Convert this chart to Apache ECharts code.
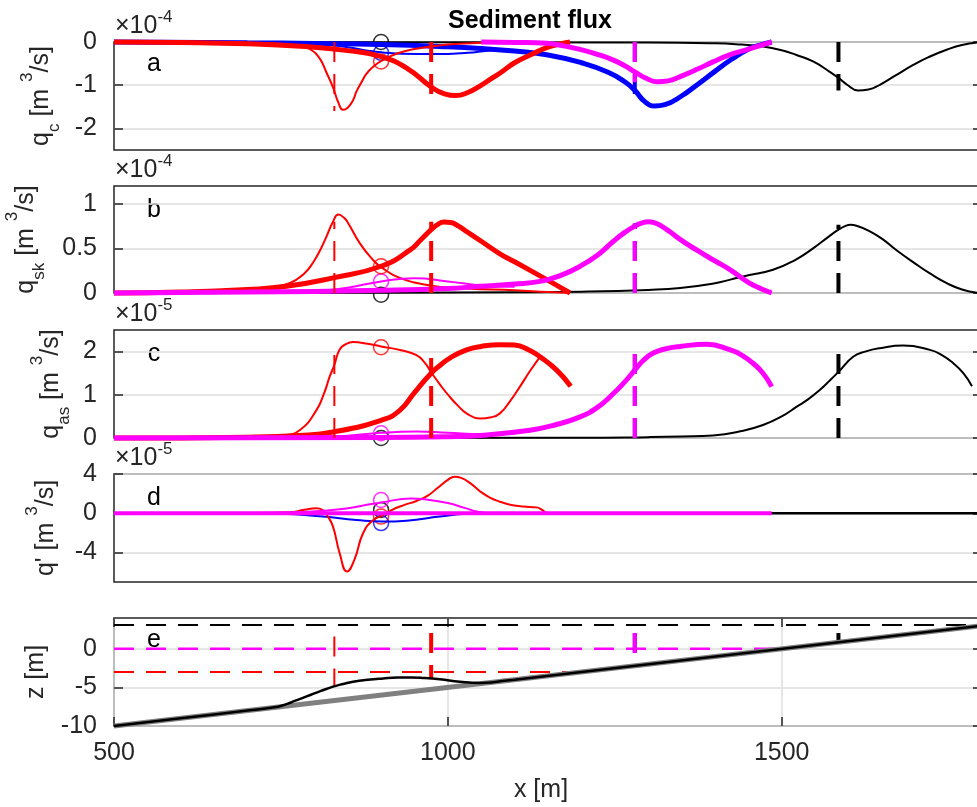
<!DOCTYPE html>
<html>
<head>
<meta charset="utf-8">
<script src="https://cdn.jsdelivr.net/npm/echarts@6.0.0/dist/echarts.min.js"></script>
<style>
  html, body { margin: 0; padding: 0; background: #fff; }
  #main { width: 977px; height: 807px; }
</style>
</head>
<body>
<div id="main"></div>
<script type="text/javascript">

// ---- data (x [m], value) ----
// panel a: q_c (x1e-4)
var qcBlack = [[500,0],[1300,-0.01],[1400,-0.03],[1440,-0.06],[1470,-0.1],[1500,-0.19],[1522,-0.3],[1547,-0.45],[1572,-0.69],[1585,-0.83],[1598,-0.99],[1614,-1.12],[1630,-1.1],[1647,-0.99],[1670,-0.78],[1697,-0.53],[1720,-0.35],[1747,-0.18],[1770,-0.07],[1800,0]];
var qcBlue = [[500,0],[750,-0.005],[800,-0.03],[850,-0.12],[880,-0.2],[900,-0.24],[930,-0.27],[980,-0.28],[1030,-0.25],[1060,-0.2],[1085,-0.18],[1110,-0.22]];
var qcBlueBold = [[500,0],[700,-0.02],[800,-0.035],[900,-0.06],[1000,-0.11],[1050,-0.15],[1100,-0.21],[1150,-0.3],[1200,-0.48],[1240,-0.7],[1265,-0.92],[1280,-1.12],[1295,-1.38],[1310,-1.48],[1325,-1.45],[1350,-1.25],[1375,-0.97],[1400,-0.68],[1425,-0.4],[1450,-0.17],[1470,-0.06],[1485,0]];
var qcRed = [[500,0],[600,-0.005],[700,-0.02],[750,-0.04],[780,-0.09],[795,-0.18],[808,-0.38],[818,-0.7],[828,-1.05],[836,-1.4],[843,-1.57],[850,-1.52],[858,-1.35],[863,-1.15],[870,-0.95],[878,-0.74],[890,-0.55],[900,-0.44],[925,-0.26],[950,-0.16],[1000,-0.06],[1050,-0.02],[1100,-0.005],[1150,0]];
var qcRedBold = [[500,0],[600,-0.01],[700,-0.04],[780,-0.1],[850,-0.2],[900,-0.34],[940,-0.62],[975,-1.04],[995,-1.2],[1012,-1.24],[1030,-1.17],[1048,-1.02],[1065,-0.85],[1080,-0.7],[1100,-0.48],[1125,-0.29],[1150,-0.12],[1170,-0.04],[1183,0]];
var qcMagBold = [[1050,0],[1100,-0.01],[1148,-0.03],[1170,-0.08],[1198,-0.17],[1225,-0.29],[1248,-0.42],[1265,-0.55],[1280,-0.69],[1297,-0.84],[1313,-0.92],[1330,-0.9],[1348,-0.8],[1375,-0.62],[1397,-0.46],[1420,-0.31],[1447,-0.18],[1470,-0.07],[1485,0]];
var qcCircles = [0, -0.25, -0.45];

// panel b: q_sk (x1e-4)
var qskBlack = [[500,0],[900,0.003],[1100,0.008],[1200,0.015],[1300,0.035],[1348,0.056],[1400,0.11],[1423,0.15],[1450,0.2],[1487,0.26],[1520,0.37],[1547,0.5],[1570,0.63],[1585,0.71],[1595,0.75],[1603,0.765],[1612,0.755],[1630,0.7],[1650,0.61],[1672,0.48],[1700,0.33],[1722,0.22],[1750,0.1],[1770,0.04],[1795,0]];
var qskRed = [[500,0],[650,0.02],[728,0.056],[763,0.11],[785,0.22],[798,0.34],[810,0.5],[818,0.63],[828,0.8],[836,0.88],[845,0.84],[851,0.78],[868,0.56],[888,0.37],[900,0.29],[928,0.17],[978,0.08],[1028,0.05],[1100,0.03],[1150,0.01],[1183,0]];
var qskRedBold = [[500,0],[600,0.01],[700,0.04],[758,0.075],[828,0.17],[900,0.3],[943,0.48],[960,0.6],[975,0.71],[985,0.77],[994,0.795],[1004,0.79],[1016,0.75],[1028,0.69],[1050,0.58],[1078,0.44],[1100,0.35],[1148,0.15],[1183,0]];
var qskMag = [[500,0],[750,0.005],[800,0.02],[850,0.06],[900,0.13],[950,0.165],[1000,0.13],[1050,0.085],[1100,0.07]];
var qskMagBold = [[500,0],[700,0.01],[900,0.03],[1000,0.05],[1048,0.075],[1100,0.1],[1138,0.13],[1170,0.2],[1198,0.3],[1225,0.43],[1248,0.58],[1265,0.68],[1280,0.75],[1291,0.785],[1300,0.8],[1309,0.79],[1320,0.75],[1332,0.69],[1350,0.59],[1373,0.48],[1400,0.36],[1423,0.26],[1440,0.17],[1457,0.09],[1485,0]];
var qskCircles = [-0.02, 0.13, 0.3];

// panel c: q_as (x1e-5)
var qasBlack = [[500,0],[1200,0.005],[1300,0.02],[1350,0.035],[1397,0.06],[1440,0.16],[1472,0.3],[1500,0.5],[1522,0.72],[1540,0.9],[1557,1.11],[1572,1.33],[1585,1.53],[1607,1.88],[1625,2.0],[1647,2.08],[1682,2.14],[1722,2.04],[1740,1.92],[1757,1.73],[1772,1.5],[1785,1.2]];
var qasRed = [[500,0],[700,0.01],[753,0.06],[778,0.18],[803,0.64],[815,1.05],[823,1.42],[830,1.69],[838,2.05],[848,2.18],[858,2.22],[880,2.18],[900,2.12],[930,2.03],[953,1.92],[965,1.75],[976,1.5],[990,1.2],[1003,0.95],[1015,0.75],[1028,0.57],[1048,0.45],[1065,0.48],[1078,0.57],[1093,0.85],[1108,1.19],[1123,1.55],[1138,1.88]];
var qasRedBold = [[500,0],[700,0.02],[778,0.06],[828,0.14],[900,0.41],[928,0.64],[950,1.05],[975,1.5],[990,1.7],[1003,1.85],[1028,2.04],[1050,2.12],[1078,2.16],[1100,2.15],[1120,2.05],[1138,1.88],[1163,1.57],[1184,1.2]];
var qasMag = [[500,0],[800,0.005],[850,0.05],[900,0.12],[953,0.15],[1000,0.12],[1050,0.09],[1100,0.1]];
var qasMagBold = [[500,0],[900,0.01],[1000,0.03],[1048,0.06],[1123,0.18],[1160,0.3],[1198,0.49],[1225,0.72],[1248,1.03],[1265,1.3],[1280,1.57],[1293,1.8],[1307,1.96],[1325,2.06],[1348,2.12],[1388,2.17],[1423,2.04],[1440,1.92],[1457,1.73],[1472,1.5],[1485,1.19]];
var qasCircles = [0, 0.11, 2.1];

// panel d: q' (x1e-5)
var qpBlack = [[500,0],[1800,0]];
var qpBlue = [[500,0],[750,-0.05],[813,-0.34],[863,-0.68],[903,-0.84],[938,-0.75],[988,-0.34],[1028,-0.05],[1060,0]];
var qpRed = [[500,0],[700,0.02],[763,0.1],[785,0.35],[803,0.5],[812,0.35],[820,-0.3],[828,-1.36],[838,-4.07],[849,-5.94],[860,-4.75],[873,-2.03],[888,-0.7],[903,-0.2],[915,0.3],[935,0.85],[953,1.25],[970,1.8],[985,2.6],[1000,3.4],[1010,3.73],[1020,3.6],[1033,3.1],[1048,2.25],[1063,1.6],[1078,1.18],[1095,0.85],[1113,0.68],[1133,0.6],[1140,0.4],[1147,0.06],[1152,0]];
var qpMag = [[500,0],[740,0.02],[790,0.15],[838,0.4],[870,0.75],[900,1.1],[945,1.5],[970,1.38],[1000,1.05],[1025,0.55],[1045,0.15],[1065,0]];
var qpMagBold = [[500,0],[1485,0]];
var qpCircles = [0.34, -1.0, -0.34, 1.35];

// panel e: bed level z [m]
var zBedPlane = [[500,-10],[1800,3]];
var zBedBar = [[500,-10],[600,-9],[700,-8],[740,-7.58],[752,-7.35],[765,-6.95],[780,-6.45],[795,-5.95],[810,-5.45],[828,-4.9],[843,-4.55],[858,-4.26],[880,-4.0],[903,-3.83],[925,-3.72],[945,-3.7],[965,-3.78],[988,-3.95],[1018,-4.26],[1048,-4.42],[1065,-4.36],[1085,-4.14],[1100,-4],[1800,3]];
var zLevelBlack = [[500,3.1],[1800,3.1]];
var zLevelMag = [[500,0],[1490,0]];
var zLevelRed = [[500,-3],[1200,-3]];

// break-point markers: red thin, red thick, blue, magenta, black
var breakX = [830, 975, 1280, 1280, 1585];
var qcDashTo = [-1.6, -1.24, -1.47, -0.93, -1.12];
var qskDashTo = [0.8, 0.8, 0.78, 0.78, 0.765];
var qasDashTo = [1.92, 1.85, 1.96, 1.96, 1.96];
var zDashFrom = [1.6, 2.05, 2.05, 2.05, 2.05];
var zDashTo = [-4.95, -3.75, -2.1, -2.1, 0.9];
var circleX = 900;

// axes
var xTicks = [500, 1000, 1500];
var yMin = [-2.5, 0, 0, -7, -10];
var yMax = [0, 1.2, 2.5, 4, 4];
var yTicks = [[-2, -1, 0], [0, 0.5, 1], [0, 1, 2], [-4, 0, 4], [-10, -5, 0]];
var expLabels = ['-4', '-4', '-5', '-5'];
var panelLetters = ['a', 'b', 'c', 'd', 'e'];

// ---- styling ----
var FONT = '"Liberation Sans", Arial, Helvetica, sans-serif';
var FS = 25;
var INK = '#262626';
var GRIDC = '#dedede';
var RED = '#ff0000', BLUE = '#0000ff', MAG = '#ff00ff', BLK = '#000000', GRAY = '#808080';
var DASH = [20, 12];
var panelTop = [42, 186, 330, 474, 618];
var panelHeight = [108, 107, 108, 108, 108];
var dashColors = [RED, RED, BLUE, MAG, BLK];
var dashWidths = [2, 4, 4, 4, 4];

var ec = echarts.init(document.getElementById('main'));

var grids = [], xAxes = [], yAxes = [], series = [];

function plain(v) { return String(v); }

for (var p = 0; p < 5; p++) {
    var last = (p === 4);
    grids.push({
        left: 114, width: 868, top: panelTop[p], height: panelHeight[p],
        show: true, borderColor: INK, borderWidth: 1.5,
        backgroundColor: 'transparent', containLabel: false, outerBoundsMode: 'none'
    });
    xAxes.push({
        type: 'value', gridIndex: p, min: 500, max: 1800, interval: 500,
        show: last,
        axisLine: { show: false, onZero: false },
        axisTick: { show: true, inside: true, length: 9, customValues: xTicks,
                    lineStyle: { color: INK, width: 1.5 } },
        axisLabel: { show: true, customValues: xTicks, margin: 15, color: INK,
                     fontSize: FS, fontFamily: FONT, formatter: plain },
        splitLine: { show: true, lineStyle: { color: GRIDC, width: 1.5 } }
    });
    yAxes.push({
        type: 'value', gridIndex: p, min: yMin[p], max: yMax[p], position: 'left',
        axisLine: { show: false, onZero: false },
        axisTick: { show: true, inside: true, length: 9, customValues: yTicks[p],
                    lineStyle: { color: INK, width: 1.5 } },
        axisLabel: { show: true, customValues: yTicks[p], margin: 17, color: INK,
                     fontSize: FS, fontFamily: FONT, formatter: plain },
        splitLine: { show: true, lineStyle: { color: GRIDC, width: 1.5 } }
    });
}
// right-hand tick marks (box on)
for (var p = 0; p < 5; p++) {
    yAxes.push({
        type: 'value', gridIndex: p, min: yMin[p], max: yMax[p], position: 'right',
        axisLine: { show: false, onZero: false },
        axisTick: { show: true, inside: true, length: 9, customValues: yTicks[p],
                    lineStyle: { color: INK, width: 1.5 } },
        axisLabel: { show: false },
        splitLine: { show: false }
    });
}
// top tick marks on the bed panel
xAxes.push({
    type: 'value', gridIndex: 4, min: 500, max: 1800, interval: 500, position: 'top',
    axisLine: { show: false, onZero: false },
    axisTick: { show: true, inside: true, length: 9, customValues: xTicks,
                lineStyle: { color: INK, width: 1.5 } },
    axisLabel: { show: false },
    splitLine: { show: false }
});

function curve(p, data, color, width, dashed, smooth) {
    series.push({
        type: 'line', xAxisIndex: p, yAxisIndex: p, data: data,
        symbol: 'none', smooth: smooth === false ? false : 0.5,
        clip: false, silent: true, animation: false,
        lineStyle: { color: color, width: width, type: dashed ? DASH : 'solid', cap: 'butt' }
    });
}

function markers(p, from, to) {
    for (var i = 0; i < breakX.length; i++) {
        var y0 = Array.isArray(from) ? from[i] : from;
        curve(p, [[breakX[i], y0], [breakX[i], to[i]]], dashColors[i], dashWidths[i], true, false);
    }
}

function circles(p, values, colors) {
    series.push({
        type: 'scatter', xAxisIndex: p, yAxisIndex: p, symbol: 'circle', symbolSize: 15,
        silent: true, animation: false, clip: false,
        data: values.map(function (v, i) {
            return { value: [circleX, v],
                     itemStyle: { color: 'rgba(0,0,0,0)', borderColor: colors[i], borderWidth: 1.5 } };
        })
    });
}

// panel a
curve(0, qcBlack, BLK, 2);
curve(0, qcBlueBold, BLUE, 5);
curve(0, qcBlue, BLUE, 2);
curve(0, qcRedBold, RED, 5);
curve(0, qcRed, RED, 2);
curve(0, qcMagBold, MAG, 5);
markers(0, 0, qcDashTo);
circles(0, qcCircles, [BLK, BLUE, RED]);

// panel b
curve(1, qskBlack, BLK, 2);
curve(1, qskRedBold, RED, 5);
curve(1, qskRed, RED, 2);
curve(1, qskMag, MAG, 2);
curve(1, qskMagBold, MAG, 5);
markers(1, 0, qskDashTo);
circles(1, qskCircles, [BLK, MAG, RED]);

// panel c
curve(2, qasBlack, BLK, 2);
curve(2, qasRedBold, RED, 5);
curve(2, qasRed, RED, 2);
curve(2, qasMag, MAG, 2);
curve(2, qasMagBold, MAG, 5);
markers(2, 0, qasDashTo);
circles(2, qasCircles, [BLK, MAG, RED]);

// panel d
curve(3, qpBlack, BLK, 2.5, false, false);
curve(3, qpBlue, BLUE, 2);
curve(3, qpRed, RED, 2);
curve(3, qpMag, MAG, 2);
curve(3, qpMagBold, MAG, 4, false, false);
circles(3, qpCircles, [BLK, BLUE, RED, MAG]);

// panel e
curve(4, zLevelBlack, BLK, 2, true, false);
curve(4, zLevelMag, MAG, 2.5, true, false);
curve(4, zLevelRed, RED, 2, true, false);
markers(4, zDashFrom, zDashTo);
curve(4, zBedPlane, GRAY, 5, false, false);
curve(4, zBedBar, BLK, 2.5);

// ---- texts ----
var graphics = [];
graphics.push({
    type: 'text', x: 530, y: 21, silent: true,
    style: { text: 'Sediment flux', font: 'bold ' + FS + 'px ' + FONT, fill: '#000',
             align: 'center', verticalAlign: 'middle' }
});
for (var p = 0; p < 4; p++) {
    graphics.push({
        type: 'text', x: 115, y: panelTop[p] - 15.5, silent: true,
        style: {
            text: '{a|\u00d710}{b|' + expLabels[p] + '}',
            align: 'left', verticalAlign: 'middle',
            rich: {
                a: { fontSize: FS, fontFamily: FONT, lineHeight: 36, fill: INK },
                b: { fontSize: 17, fontFamily: FONT, lineHeight: 16, verticalAlign: 'top', fill: INK }
            }
        }
    });
}
var letterY = [64, 210, 354, 498, 640];
for (var p = 0; p < 5; p++) {
    graphics.push({
        type: 'text', x: 154, y: letterY[p], silent: true,
        style: { text: panelLetters[p], font: FS + 'px ' + FONT, fill: '#000',
                 align: 'center', verticalAlign: 'middle' }
    });
}
var yNames = [
    '{m|q}{s|c}{m| [m }{p|3}{m|/s]}',
    '{m|q}{s|sk}{m| [m }{p|3}{m|/s]}',
    '{m|q}{s|as}{m| [m }{p|3}{m|/s]}',
    "{m|q' [m }{p|3}{m|/s]}",
    '{m|z [m]}'
];
var yNameX = [41, 26, 51, 46, 36];
for (var p = 0; p < 5; p++) {
    graphics.push({
        type: 'text', x: yNameX[p], y: panelTop[p] + panelHeight[p] / 2,
        rotation: Math.PI / 2, silent: true,
        style: {
            text: yNames[p], align: 'center', verticalAlign: 'middle',
            rich: {
                m: { fontSize: FS, fontFamily: FONT, lineHeight: 44, fill: INK },
                s: { fontSize: 17, fontFamily: FONT, lineHeight: 16, verticalAlign: 'bottom', fill: INK },
                p: { fontSize: 17, fontFamily: FONT, lineHeight: 16, verticalAlign: 'top', fill: INK }
            }
        }
    });
}
graphics.push({
    type: 'text', x: 541, y: 790, silent: true,
    style: { text: 'x [m]', font: FS + 'px ' + FONT, fill: INK, align: 'center', verticalAlign: 'middle' }
});

var option = {
    animation: false,
    backgroundColor: '#ffffff',
    grid: grids,
    xAxis: xAxes,
    yAxis: yAxes,
    series: series,
    graphic: graphics
};

ec.setOption(option);
</script>
</body>
</html>
